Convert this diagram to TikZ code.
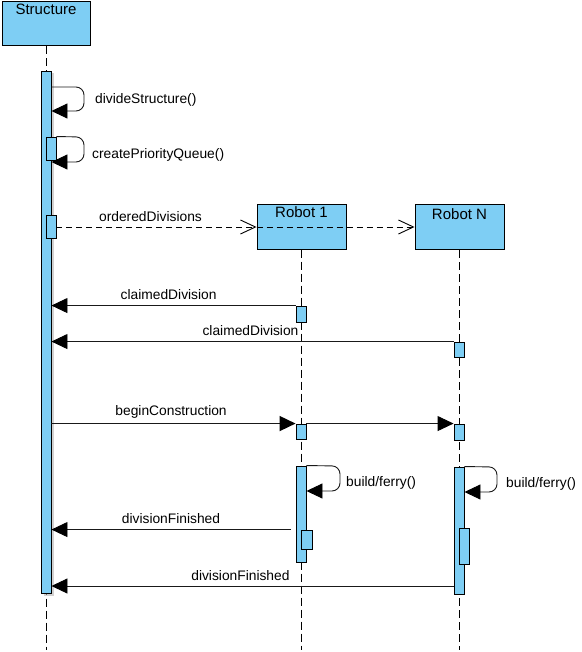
\documentclass[tikz,border=0pt]{standalone}
\usepackage{fontspec}
\setmainfont{Liberation Sans}
\usepackage{tikz}
\usetikzlibrary{arrows.meta, positioning, shadows}
\definecolor{lifeblue}{RGB}{126,206,244}

\begin{document}
\begin{tikzpicture}[x=1pt, y=-1pt, >={Triangle[length=16pt, width=15pt, color=black]},
    font=\fontsize{13.8}{16}\selectfont]
    \tikzstyle{head} = [draw, fill=lifeblue, line width=1pt, minimum width=88pt, minimum height=44pt, inner sep=0pt]
    \tikzstyle{headlbl} = [anchor=base, inner sep=0pt, yshift=-13.5pt, font=\fontsize{15}{17}\selectfont]
    \tikzstyle{act} = [draw, fill=lifeblue, line width=0.9pt, inner sep=0pt, minimum width=10pt]
    \tikzstyle{life} = [line width=0.9pt, dash pattern=on 8pt off 4pt]
    \tikzstyle{msg} = [->, line width=0.9pt, draw=black!90]
    \tikzstyle{self} = [msg, rounded corners=8pt]
    \tikzstyle{ret} = [line width=0.9pt, dash pattern=on 6pt off 4pt, -{Straight Barb[length=15pt, width=14pt]}]
    \tikzstyle{lbl} = [anchor=base, inner sep=0pt, yshift=6pt]
    \tikzstyle{looplbl} = [anchor=base west, inner sep=0pt]

    \useasboundingbox (0,0) rectangle (581,652);

    % heads
    \node [head, label={[headlbl]north:Structure}] at (46,24) (struct) {};
    \node [head, minimum width=89pt, label={[headlbl]north:Robot 1}] at (301.5,227) (robot1) {};
    \node [head, minimum width=89pt, minimum height=45pt, label={[headlbl, yshift=-1.5pt]north:Robot N},
        right=68pt of robot1] (robotN) {};

    % lifelines
    \coordinate (structend) at (46,650);
    \coordinate (robot1end) at (301,650);
    \coordinate (robotNend) at (459,650);
    \draw[life] (struct.south) -- (structend);
    \draw[life] (robot1.south -| robot1end) -- (robot1end);
    \draw[life] (robotN.south -| robotNend) -- (robotNend);

    % activations
    \node [act, minimum height=522pt,
        drop shadow={shadow xshift=2.5pt, shadow yshift=-2.5pt, fill=black!30, opacity=0.6}] at (46,332) (structbar) {};
    \node [act, minimum height=23pt] at (51,148.5) (cpq) {};
    \node [act, minimum height=23pt] at (51,226.5) (ord) {};
    \node [act, minimum height=16pt] at (301,314) (claim1) {};
    \node [act, minimum height=15pt] at (459,349.5) (claimN) {};
    \node [act, minimum height=15pt] at (301,431.5) (begin1) {};
    \node [act, minimum height=16pt] at (459,432) (beginN) {};
    \node [act, minimum height=96pt] at (301,514) (build1) {};
    \node [act, minimum height=127pt] at (459,530.5) (buildN) {};
    \node [act, minimum width=11pt, minimum height=19pt] at (306.5,539.5) (fin1) {};
    \node [act, minimum height=36pt] at (464,546) (finN) {};

    % self calls
    \draw[self] (structbar.east |- 0,87) -- (84,87) -- (84,111) -- (structbar.east |- 0,111);
    \node [looplbl] at (95,104) (divlbl) {divideStructure()};
    \draw[self] (cpq.north east) -- (84,137) -- (84,162) -- (structbar.east |- 0,162);
    \node [looplbl] at (92,158.5) (cpqlbl) {createPriorityQueue()};
    \draw[self] (build1.north east) -- (340,466) -- (340,491) -- (build1.east |- 0,491);
    \node [looplbl] at (346,486) (build1lbl) {build/ferry()};
    \draw[self] (buildN.north east) -- (497,467) -- (497,492) -- (buildN.east |- 0,492);
    \node [looplbl] at (506,487) (buildNlbl) {build/ferry()};

    % messages
    \draw[ret] (ord.east |- robot1.west) -- (robot1.west) node[lbl, pos=0.47] {orderedDivisions};
    \draw[ret] (robot1.west) -- (robotN.west);
    \draw[msg] (claim1.north west) -- (structbar.east |- claim1.north west) node[lbl, pos=0.52] {claimedDivision};
    \draw[msg] (claimN.north west) -- (structbar.east |- claimN.north west) node[lbl, pos=0.505] {claimedDivision};
    \draw[msg, line width=1.6pt] (structbar.east |- begin1.north west) -- (begin1.north west) node[lbl, pos=0.49, yshift=2pt] {beginConstruction};
    \draw[msg] (begin1.north east) -- (beginN.north west);
    \draw[msg] ([xshift=-5pt]build1.west |- fin1.north) -- (structbar.east |- fin1.north) node[lbl, midway] {divisionFinished};
    \draw[msg] (buildN.west |- 0,586) -- (structbar.east |- 0,586) node[lbl, pos=0.53] {divisionFinished};
\end{tikzpicture}
\end{document}
